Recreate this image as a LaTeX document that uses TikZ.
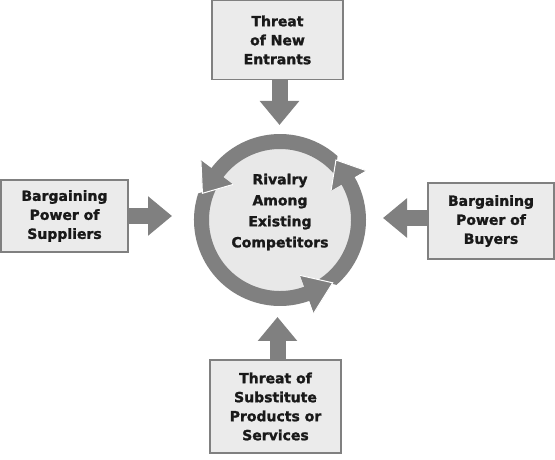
\documentclass[tikz,border=0pt]{standalone}
\usepackage{fontspec}
\setmainfont{DejaVu Sans}
\newfontfamily\heavyfont{DejaVu Sans Bold}[FakeBold=1.5]
\usetikzlibrary{arrows.meta}

\begin{document}
\begin{tikzpicture}[x=1pt, y=1pt,
  force/.style={draw=black!50, line width=1.2pt, fill=black!8, align=center,
    font=\heavyfont\fontsize{14}{19}\selectfont, text=black!90, inner sep=0pt},
  push/.style={draw=black!50, line width=16pt,
    -{Triangle[width=38pt, length=24pt]}}]
  \useasboundingbox (0,0) rectangle (555,460);
  % central cycle
  \begin{scope}[shift={(280,240)}]
    \fill[black!9] (0,0) circle[radius=72];
    \foreach \p/\b/\t in {47/143/161, -50/30/47, 161/290/310}
      \fill[black!50] (\p+1:86) arc[start angle=\p+1, end angle=\b, radius=86]
        -- (\b:99) -- (\t:82) -- (\b:59) -- (\b:71)
        arc[start angle=\b, end angle=\p-8, radius=71] -- cycle;
    \foreach \b/\t in {143/161, 30/47, 290/310} {
      \fill[black!50] (\b:99) -- (\t:82) -- (\b:59) -- cycle;
      \draw[white, line width=1pt] (\b:99) -- (\t:82) -- (\b:59);
    }
  \end{scope}
  \node[align=center, font=\heavyfont\fontsize{14}{21}\selectfont, text=black!90]
    (rivalry) at (280,248) {Rivalry\\Among\\Existing\\Competitors};
  % the four forces
  \node[force, minimum width=131pt, minimum height=79pt] (entrants) at (277.5,420) {Threat\\of New\\Entrants};
  \node[force, minimum width=127pt, minimum height=72pt] (suppliers) at (64.5,244) {Bargaining\\Power of\\Suppliers};
  \node[force, minimum width=126pt, minimum height=76pt] (buyers) at (491,239) {Bargaining\\Power of\\Buyers};
  \node[force, minimum width=131pt, minimum height=93pt] (substitutes) at (275.5,53.5) {Threat of\\Substitute\\Products or\\Services};
  \coordinate (t1) at (279.5,335);
  \coordinate (t2) at (172,244);
  \coordinate (t3) at (383,242);
  \coordinate (t4) at (277.5,143);
  \draw[push] (t1 |- entrants.south) -- (t1);
  \draw[push] (suppliers.east |- t2) -- (t2);
  \draw[push] (buyers.west |- t3) -- (t3);
  \draw[push] (t4 |- substitutes.north) -- (t4);
\end{tikzpicture}
\end{document}
